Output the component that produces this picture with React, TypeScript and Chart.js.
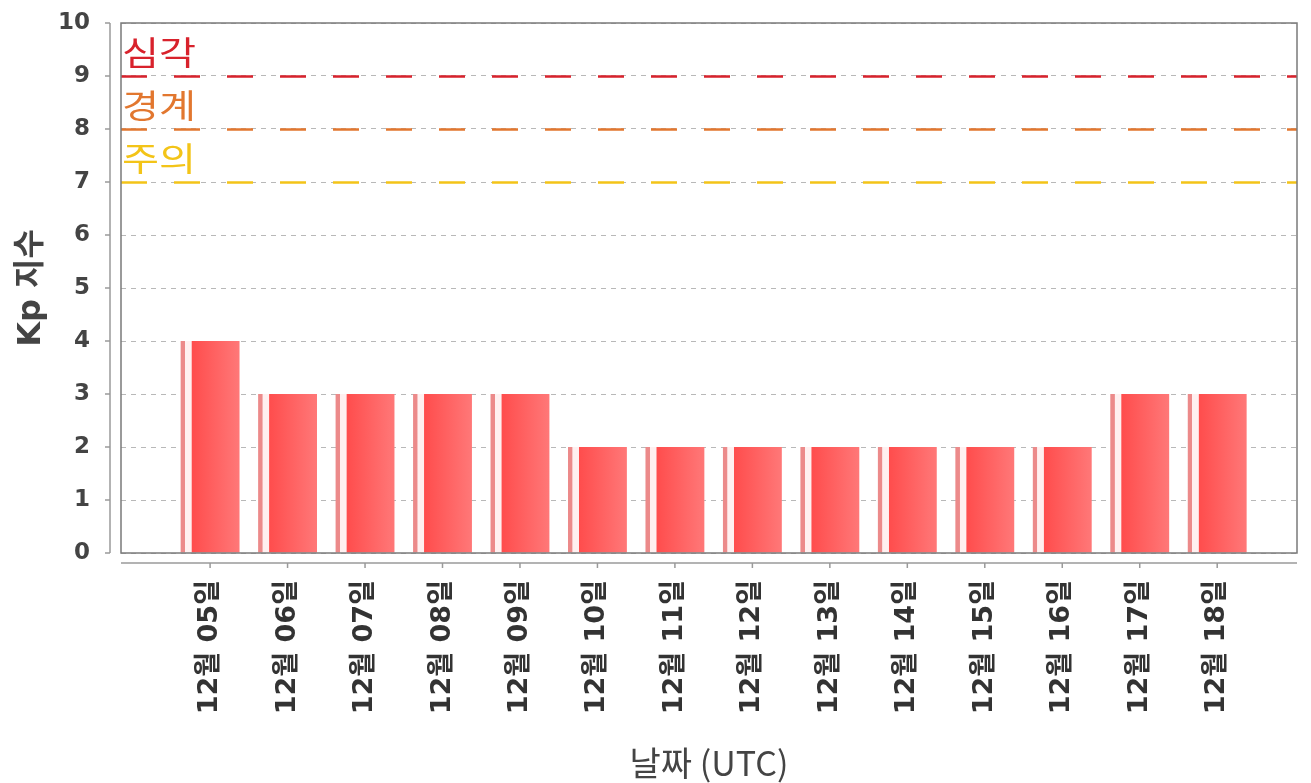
import React, { useEffect, useRef } from "react";
import { Chart, registerables } from "chart.js";

Chart.register(...registerables);

const dateLabels = [
  "12월 05일", "12월 06일", "12월 07일", "12월 08일", "12월 09일", "12월 10일", "12월 11일",
  "12월 12일", "12월 13일", "12월 14일", "12월 15일", "12월 16일", "12월 17일", "12월 18일",
];
const kpValues = [4, 3, 3, 3, 3, 2, 2, 2, 2, 2, 2, 2, 3, 3];
const yTickValues = [0, 1, 2, 3, 4, 5, 6, 7, 8, 9, 10];
const thresholdValues = [9, 8, 7];
const thresholdLabels = ["심각", "경계", "주의"];
const thresholdColors = ["#d8222c", "#e2772f", "#f3c418"];

const BAR_FRACTION = 0.76;
const X_MIN = -1.15;
const X_MAX = 14.03;

const decorPlugin = {
  id: "decor",
  afterDatasetsDraw(chart: any) {
    const { ctx, chartArea } = chart;
    const ys = chart.scales.y;
    ctx.save();
    thresholdValues.forEach((v, i) => {
      const py = Math.round(ys.getPixelForValue(v)) + 0.5;
      ctx.strokeStyle = thresholdColors[i];
      ctx.lineWidth = 2.5;
      ctx.setLineDash([26, 27]);
      ctx.beginPath();
      ctx.moveTo(chartArea.left, py);
      ctx.lineTo(chartArea.right, py);
      ctx.stroke();
      ctx.setLineDash([]);
      ctx.save();
      ctx.translate(chartArea.left + 1, py - 12);
      ctx.scale(1.22, 1);
      ctx.fillStyle = thresholdColors[i];
      ctx.font = '33px "Noto Sans CJK KR", sans-serif';
      ctx.textAlign = "left";
      ctx.textBaseline = "alphabetic";
      ctx.fillText(thresholdLabels[i], 0, 0);
      ctx.restore();
    });
    ctx.restore();
  },
  afterDraw(chart: any) {
    const { ctx, chartArea } = chart;
    const ys = chart.scales.y;
    const xs = chart.scales.x;
    ctx.save();
    ctx.strokeStyle = "#7a7a7a";
    ctx.lineWidth = 1.5;
    ctx.strokeRect(chartArea.left, chartArea.top, chartArea.right - chartArea.left, chartArea.bottom - chartArea.top);
    ctx.strokeStyle = "#9a9a9a";
    ctx.lineWidth = 1.5;
    const ax = chartArea.left - 11;
    ctx.beginPath();
    ctx.moveTo(ax, chartArea.top);
    ctx.lineTo(ax, chartArea.bottom);
    yTickValues.forEach((v) => {
      const py = ys.getPixelForValue(v);
      ctx.moveTo(ax - 5, py);
      ctx.lineTo(ax, py);
    });
    ctx.stroke();
    const ay = chartArea.bottom + 10;
    ctx.beginPath();
    ctx.moveTo(chartArea.left, ay);
    ctx.lineTo(chartArea.right, ay);
    dateLabels.forEach((_, i) => {
      const px = xs.getPixelForValue(i);
      ctx.moveTo(px, ay);
      ctx.lineTo(px, ay + 5);
    });
    ctx.stroke();
    ctx.restore();
  },
};

export default function App() {
  const canvasRef = useRef<HTMLCanvasElement | null>(null);

  useEffect(() => {
    if (!canvasRef.current) return;
    const chart = new Chart(canvasRef.current, {
      type: "bar",
      data: {
        datasets: [
          {
            label: "Kp",
            data: kpValues.map((v, i) => ({ x: i, y: v })),
            backgroundColor: (c: any) => {
              const ch = c.chart;
              const xs = ch.scales && ch.scales.x;
              if (!xs || c.dataIndex == null) return "#ff6060";
              const center = xs.getPixelForValue(c.dataIndex);
              const unit = xs.getPixelForValue(1) - xs.getPixelForValue(0);
              const hw = (unit * BAR_FRACTION) / 2;
              if (!isFinite(center) || !isFinite(hw)) return "#ff6060";
              const g = ch.ctx.createLinearGradient(center - hw, 0, center + hw, 0);
              g.addColorStop(0, "#ec8a8a");
              g.addColorStop(0.07, "#ec8a8a");
              g.addColorStop(0.08, "#fff0f0");
              g.addColorStop(0.18, "#fff0f0");
              g.addColorStop(0.195, "#ff4d4d");
              g.addColorStop(1, "#ff7878");
              return g;
            },
            borderWidth: 0,
            categoryPercentage: 1,
            barPercentage: BAR_FRACTION,
          } as any,
        ],
      },
      options: {
        animation: false,
        responsive: false,
        maintainAspectRatio: false,
        layout: { padding: { left: 0, right: 14, top: 23, bottom: 0 } },
        plugins: {
          legend: { display: false },
          tooltip: { enabled: false },
        },
        scales: {
          x: {
            type: "linear",
            min: X_MIN,
            max: X_MAX,
            offset: false,
            grid: { display: false, drawTicks: false, offset: false },
            border: { display: false },
            afterBuildTicks: (scale: any) => {
              scale.ticks = dateLabels.map((_, i) => ({ value: i }));
            },
            afterFit: (scale: any) => {
              scale.height = 783 - 553;
              scale.paddingLeft = 0;
              scale.paddingRight = 0;
            },
            ticks: {
              autoSkip: false,
              maxRotation: 90,
              minRotation: 90,
              padding: 27,
              color: "#333333",
              font: { family: '"DejaVu Sans", "Noto Sans CJK KR", sans-serif', size: 27, weight: "bold" },
              callback: (v: any) => dateLabels[v] ?? "",
            },
            title: {
              display: true,
              text: "날짜 (UTC)",
              color: "#444444",
              padding: { top: 0, bottom: 0 },
              font: { family: '"Noto Sans CJK KR", "DejaVu Sans", sans-serif', size: 34, weight: "normal" },
            },
          } as any,
          y: {
            min: 0,
            max: 10,
            grid: { color: "#b8b8b8", lineWidth: 1, drawTicks: false },
            border: { display: false, dash: [5, 5] },
            afterFit: (scale: any) => {
              scale.width = 121;
              scale.paddingTop = 0;
              scale.paddingBottom = 0;
            },
            ticks: {
              stepSize: 1,
              padding: 31,
              color: "#444444",
              font: { family: '"DejaVu Sans", sans-serif', size: 23, weight: "bold" },
            },
            title: {
              display: true,
              text: "Kp 지수",
              color: "#444444",
              padding: { top: 12, bottom: 0 },
              font: { family: '"DejaVu Sans", "Noto Sans CJK KR", sans-serif', size: 32, weight: "bold" },
            },
          } as any,
        },
      },
      plugins: [decorPlugin],
    });
    return () => chart.destroy();
  }, []);

  return (
    <div style={{ position: "fixed", left: 0, top: 0, width: 1311, height: 783, background: "#ffffff" }}>
      <canvas ref={canvasRef} width={1311} height={783} style={{ width: 1311, height: 783 }} />
    </div>
  );
}
